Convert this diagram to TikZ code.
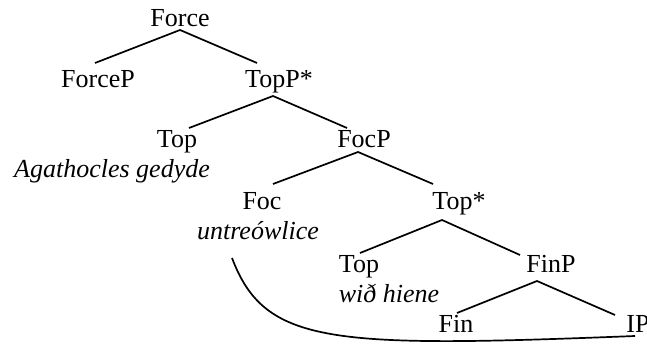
\documentclass[tikz,border=0pt]{standalone}
\usepackage{fontspec}
\setmainfont{Liberation Serif}
\usepackage{tikz}
\usetikzlibrary{calc}

\tikzset{
    lbl/.style={anchor=base, inner sep=0pt, font=\fontsize{13}{15}\selectfont},
    gloss/.style={lbl, font=\fontsize{13}{15}\selectfont\itshape},
    branch/.style={line width=0.85pt}
}

\begin{document}
\begin{tikzpicture}[x=0.5pt, y=-0.5pt]
                        \useasboundingbox (0, 0) rectangle (647, 347);

                        % labels of the tree
                        \node[lbl] (force) at (180, 27) {Force};
                        \node[lbl] (forcep) at (98, 88) {ForceP};
                        \node[lbl] (toppstar) at (279, 88) {TopP*};
                        \node[lbl] (topa) at (177, 148) {Top};
                        \node[gloss] (agath) at (112, 177) {Agathocles gedyde};
                        \node[lbl] (focp) at (364, 148) {FocP};
                        \node[lbl] (foc) at (262, 210) {Foc};
                        \node[gloss] (untr) at (258, 240) {untreówlice};
                        \node[lbl] (topstar) at (459, 210) {Top*};
                        \node[lbl] (topb) at (359, 272) {Top};
                        \node[gloss] (hiene) at (389, 302) {wið hiene};
                        \node[lbl] (finp) at (551, 272) {FinP};
                        \node[lbl] (fin) at (456, 332) {Fin};
                        \node[lbl] (ip) at (638, 332) {IP};

                        % branches
                        \draw[branch]
                        ($(forcep.base)+(-3,-25)$) -- ($(force.base)+(0,3)$) -- ($(toppstar.base)+(-22,-25)$)
                        ($(topa.base)+(12,-20)$) -- ($(toppstar.base)+(-6,8)$) -- ($(focp.base)+(-17,-20)$)
                        ($(foc.base)+(11,-26)$) -- ($(focp.base)+(-6,4)$) -- ($(topstar.base)+(-26,-26)$)
                        ($(topb.base)+(1,-19)$) -- ($(topstar.base)+(-17,10)$) -- ($(finp.base)+(-31,-17)$)
                        ($(fin.base)+(1,-19)$) -- ($(finp.base)+(-14,9)$) -- ($(ip.base)+(-23,-17)$);

                        % movement line
                        \draw[branch] ($(untr.base)+(-26,18)$)
                        .. controls (265, 345) and (330, 348) .. ($(ip.base)+(-3,4)$);
                    \end{tikzpicture}
\end{document}
